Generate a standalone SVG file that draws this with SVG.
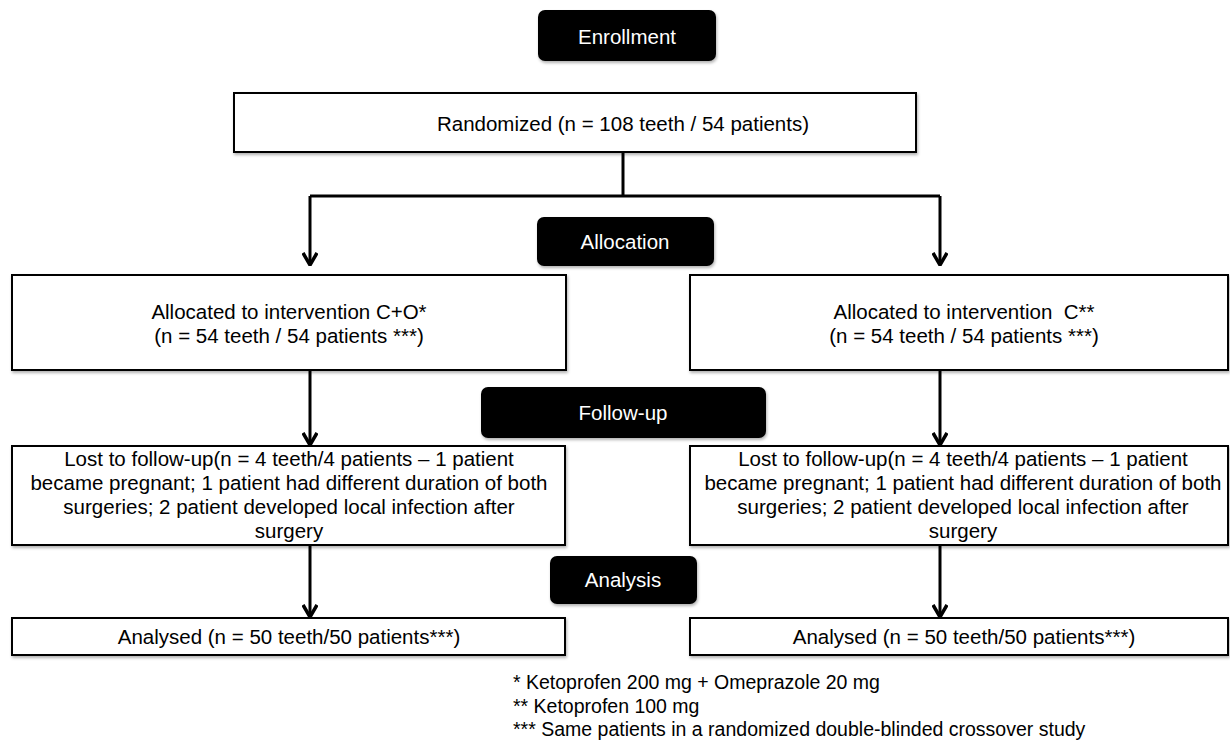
<svg xmlns="http://www.w3.org/2000/svg" width="1230" height="742" viewBox="0 0 1230 742">
<defs>
<filter id="sh" x="-5%" y="-10%" width="110%" height="130%">
<feDropShadow dx="1" dy="2" stdDeviation="1.5" flood-color="#000" flood-opacity="0.3"/>
</filter>
<marker id="ah" viewBox="0 0 14 16" refX="13" refY="8" markerWidth="14" markerHeight="16" markerUnits="userSpaceOnUse" orient="auto">
<path d="M1,1 L13,8 L1,15" fill="none" stroke="#000" stroke-width="3.5"/>
</marker>
</defs>
<style>
.box{fill:#fff;stroke:#000;stroke-width:2;filter:url(#sh)}
.stage{fill:#000;filter:url(#sh)}
.t{font-family:"Liberation Sans",Arial,sans-serif;font-size:20.5px;fill:#000;text-anchor:middle}
.w{font-family:"Liberation Sans",Arial,sans-serif;font-size:20.5px;fill:#fff;text-anchor:middle}
.fn{font-family:"Liberation Sans",Arial,sans-serif;font-size:19.5px;fill:#000}
.c{fill:none;stroke:#000;stroke-width:3}
</style>
<rect width="1230" height="742" fill="#fff"/>
<g id="connectors">
<path class="c" d="M623,152 V196"/>
<path class="c" d="M310,196 H940"/>
<path class="c" d="M310,196 V265" marker-end="url(#ah)"/>
<path class="c" d="M940,196 V265" marker-end="url(#ah)"/>
<path class="c" d="M310,370 V445" marker-end="url(#ah)"/>
<path class="c" d="M940,370 V445" marker-end="url(#ah)"/>
<path class="c" d="M310,545 V617" marker-end="url(#ah)"/>
<path class="c" d="M940,545 V617" marker-end="url(#ah)"/>
</g>
<g id="enrollment">
<rect class="stage" x="538" y="10" width="178" height="51" rx="7"/>
<text class="w" x="627" y="44">Enrollment</text>
</g>
<g id="randomized">
<rect class="box" x="234" y="93" width="682" height="59"/>
<text class="t" x="623" y="131">Randomized (n = 108 teeth / 54 patients)</text>
</g>
<g id="allocation">
<rect class="stage" x="537" y="217" width="177" height="49" rx="7"/>
<text class="w" x="625" y="249">Allocation</text>
</g>
<g id="alloc-left">
<rect class="box" x="12" y="275" width="554" height="95"/>
<text class="t" x="289" y="319">Allocated to intervention C+O*</text>
<text class="t" x="289" y="343">(n = 54 teeth / 54 patients ***)</text>
</g>
<g id="alloc-right">
<rect class="box" x="690" y="275" width="538" height="95"/>
<text class="t" x="964" y="319" xml:space="preserve">Allocated to intervention  C**</text>
<text class="t" x="964" y="343">(n = 54 teeth / 54 patients ***)</text>
</g>
<g id="followup">
<rect class="stage" x="481" y="387" width="285" height="51" rx="7"/>
<text class="w" x="623" y="420">Follow-up</text>
</g>
<g id="lost-left">
<rect class="box" x="12" y="446" width="553" height="99"/>
<text class="t" x="289" y="466">Lost to follow-up(n = 4 teeth/4 patients – 1 patient</text>
<text class="t" x="289" y="490">became pregnant; 1 patient had different duration of both</text>
<text class="t" x="289" y="514">surgeries; 2 patient developed local infection after</text>
<text class="t" x="289" y="538">surgery</text>
</g>
<g id="lost-right">
<rect class="box" x="690" y="446" width="538" height="99"/>
<text class="t" x="963" y="466">Lost to follow-up(n = 4 teeth/4 patients – 1 patient</text>
<text class="t" x="963" y="490">became pregnant; 1 patient had different duration of both</text>
<text class="t" x="963" y="514">surgeries; 2 patient developed local infection after</text>
<text class="t" x="963" y="538">surgery</text>
</g>
<g id="analysis">
<rect class="stage" x="550" y="556" width="147" height="48" rx="7"/>
<text class="w" x="623" y="587">Analysis</text>
</g>
<g id="analysed-left">
<rect class="box" x="12" y="618" width="553" height="37"/>
<text class="t" x="289" y="644">Analysed (n = 50 teeth/50 patients***)</text>
</g>
<g id="analysed-right">
<rect class="box" x="690" y="618" width="538" height="37"/>
<text class="t" x="964" y="644">Analysed (n = 50 teeth/50 patients***)</text>
</g>
<g id="footnotes">
<text class="fn" x="513" y="689">* Ketoprofen 200 mg + Omeprazole 20 mg</text>
<text class="fn" x="513" y="713">** Ketoprofen 100 mg</text>
<text class="fn" x="513" y="736">*** Same patients in a randomized double-blinded crossover study</text>
</g>
</svg>
